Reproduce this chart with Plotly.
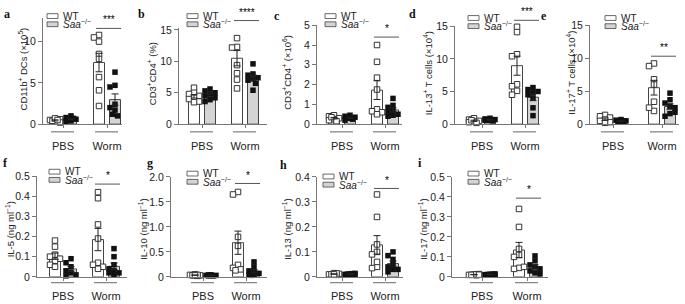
import numpy as np
import plotly.graph_objects as go

W, H = 685, 304

groups = ["PBS", "Worm"]
genotypes = ["WT", "<i>Saa</i><sup>−/−</sup>"]

# ---------------- data ----------------
a_wt_pbs = [0.3, 0.5, 0.6, 0.4, 0.2, 0.7, 0.5]
a_ko_pbs = [0.4, 0.8, 1.0, 0.6, 0.5, 0.3, 0.7]
a_wt_worm = [10.8, 10.5, 10.0, 8.5, 7.9, 5.7, 4.1, 2.2]
a_ko_worm = [6.3, 4.7, 4.5, 2.4, 2.0, 1.7, 1.2, 1.0]

b_wt_pbs = [5.8, 5.0, 4.8, 4.5, 4.2, 4.0, 3.6, 3.5]
b_ko_pbs = [5.6, 5.3, 5.0, 4.8, 4.5, 4.2, 3.9, 3.6]
b_wt_worm = [15.5, 13.7, 12.3, 12.2, 9.4, 8.1, 7.1, 5.7]
b_ko_worm = [9.6, 8.0, 7.8, 7.4, 7.2, 7.0, 6.5, 5.4]

c_wt_pbs = [0.45, 0.4, 0.3, 0.25, 0.2, 0.35, 0.15]
c_ko_pbs = [0.45, 0.4, 0.35, 0.3, 0.25, 0.2, 0.3]
c_wt_worm = [4.0, 3.15, 2.35, 1.75, 0.75, 0.65, 0.6, 0.5]
c_ko_worm = [1.3, 0.95, 0.85, 0.7, 0.6, 0.5, 0.45, 0.4]

d_wt_pbs = [0.9, 0.7, 0.5, 0.4, 0.3, 0.6, 0.2]
d_ko_pbs = [0.9, 0.8, 0.7, 0.6, 0.5, 0.7, 0.6]
d_wt_worm = [14.9, 14.1, 10.7, 10.4, 6.1, 5.8, 5.1, 4.5]
d_ko_worm = [5.6, 5.3, 5.0, 4.8, 4.5, 4.0, 2.5, 1.3]

e_wt_pbs = [1.4, 1.2, 1.0, 0.7, 0.5, 0.3, 0.2]
e_ko_pbs = [0.7, 0.6, 0.5, 0.4, 0.3, 0.5, 0.4]
e_wt_worm = [9.2, 8.8, 6.8, 6.0, 3.4, 2.0, 2.5]
e_ko_worm = [4.7, 3.7, 3.2, 2.7, 2.5, 1.6, 1.2, 1.8]

f_wt_pbs = [0.18, 0.15, 0.11, 0.10, 0.09, 0.08, 0.06, 0.05]
f_ko_pbs = [0.09, 0.07, 0.05, 0.03, 0.02, 0.01, 0.005]
f_wt_worm = [0.42, 0.39, 0.26, 0.19, 0.07, 0.06, 0.05, 0.04]
f_ko_worm = [0.14, 0.10, 0.06, 0.04, 0.03, 0.02, 0.02, 0.01]

g_wt_pbs = [0.05, 0.04, 0.03, 0.03, 0.02, 0.04, 0.03]
g_ko_pbs = [0.04, 0.03, 0.03, 0.02, 0.02, 0.03, 0.04]
g_wt_worm = [1.70, 1.65, 0.80, 0.62, 0.24, 0.18, 0.15, 0.13]
g_ko_worm = [0.30, 0.20, 0.12, 0.10, 0.07, 0.05, 0.04, 0.03]

h_wt_pbs = [0.015, 0.01, 0.012, 0.008, 0.01, 0.014, 0.01]
h_ko_pbs = [0.012, 0.01, 0.014, 0.009, 0.011, 0.013, 0.01]
h_wt_worm = [0.33, 0.24, 0.13, 0.10, 0.09, 0.04, 0.035, 0.06]
h_ko_worm = [0.10, 0.085, 0.07, 0.05, 0.04, 0.03, 0.02, 0.03]

i_wt_pbs = [0.012, 0.01, 0.014, 0.008, 0.01, 0.013, 0.011]
i_ko_pbs = [0.013, 0.011, 0.015, 0.01, 0.012, 0.014, 0.01]
i_wt_worm = [0.34, 0.25, 0.14, 0.11, 0.10, 0.045, 0.04, 0.05]
i_ko_worm = [0.105, 0.08, 0.06, 0.05, 0.04, 0.03, 0.02, 0.015]

panel_letters = ["a", "b", "c", "d", "e", "f", "g", "h", "i"]
y_titles = [
    "CD11b<sup>+</sup> DCs (×10<sup>5</sup>)",
    "CD3<sup>+</sup>CD4<sup>+</sup> (%)",
    "CD3<sup>+</sup>CD4<sup>+</sup> (×10<sup>6</sup>)",
    "IL-13<sup>+</sup> T cells (×10<sup>4</sup>)",
    "IL-17<sup>+</sup> T cells (×10<sup>4</sup>)",
    "IL-5 (ng ml<sup>−1</sup>)",
    "IL-10 (ng ml<sup>−1</sup>)",
    "IL-13 (ng ml<sup>−1</sup>)",
    "IL-17 (ng ml<sup>−1</sup>)",
]
y_ticks = [
    [0, 5, 10], [0, 5, 10, 15], [0, 1, 2, 3, 4, 5], [0, 5, 10, 15], [0, 5, 10, 15],
    [0, 0.1, 0.2, 0.3, 0.4, 0.5], [0, 0.5, 1.0, 1.5, 2.0],
    [0, 0.1, 0.2, 0.3, 0.4], [0, 0.1, 0.2, 0.3, 0.4, 0.5],
]
y_ticktext = [
    ["0", "5", "10"], ["0", "5", "10", "15"], ["0", "1", "2", "3", "4", "5"],
    ["0", "5", "10", "15"], ["0", "5", "10", "15"],
    ["0", "0.1", "0.2", "0.3", "0.4", "0.5"], ["0", "0.5", "1.0", "1.5", "2.0"],
    ["0", "0.1", "0.2", "0.3", "0.4"], ["0", "0.1", "0.2", "0.3", "0.4", "0.5"],
]
y_max = [12.8, 15.3, 5.0, 15.0, 15.0, 0.5, 2.0, 0.4, 0.5]
sig_labels = ["***", "****", "*", "***", "**", "*", "*", "*", "*"]
sig_level = [11.6, 16.5, 4.4, 15.9, 10.3, 0.46, 1.87, 0.354, 0.394]

wt_pbs = [a_wt_pbs, b_wt_pbs, c_wt_pbs, d_wt_pbs, e_wt_pbs, f_wt_pbs, g_wt_pbs, h_wt_pbs, i_wt_pbs]
ko_pbs = [a_ko_pbs, b_ko_pbs, c_ko_pbs, d_ko_pbs, e_ko_pbs, f_ko_pbs, g_ko_pbs, h_ko_pbs, i_ko_pbs]
wt_worm = [a_wt_worm, b_wt_worm, c_wt_worm, d_wt_worm, e_wt_worm, f_wt_worm, g_wt_worm, h_wt_worm, i_wt_worm]
ko_worm = [a_ko_worm, b_ko_worm, c_ko_worm, d_ko_worm, e_ko_worm, f_ko_worm, g_ko_worm, h_ko_worm, i_ko_worm]

# ---------------- layout geometry (pixels) ----------------
geo = [
    dict(L=43, R=122, c0=63, c1=107, y0=123, top=13),
    dict(L=179, R=267, c0=202, c1=245, y0=123, top=23),
    dict(L=317, R=402, c0=342, c1=385, y0=123, top=20),
    dict(L=455, R=540, c0=482, c1=525, y0=123, top=21),
    dict(L=590, R=679, c0=613, c1=662, y0=123, top=20),
    dict(L=37, R=127, c0=63, c1=106, y0=282, top=177),
    dict(L=171, R=267, c0=203, c1=246, y0=282, top=178),
    dict(L=317, R=403, c0=342, c1=385, y0=282, top=178),
    dict(L=452, R=548, c0=482, c1=527, y0=282, top=178),
]
title_x = [23, 152, 287, 428, 571, 10, 143, 287, 423]
letter_pos = [(7, 8), (141, 8), (277, 10), (412, 8), (544, 10), (5, 163), (150, 163), (283, 166), (420, 163)]
legend_dx = [4, 8, 8, 13, 15, 12, 16, 6, 16]
legend_top = [8, 8, 8, 10, 10, 170, 172, 175, 172]

FONT = "Liberation Sans, Arial, sans-serif"
AXC = "#777777"
TXT = "#222222"
BAR_OFF_PX = 8
BAR_W_PX = 11
MS = 5.5

def px2x(p):
    return p / W

def px2y(p):
    return 1 - p / H

def mean_sem(v):
    v = np.asarray(v, float)
    return v.mean(), v.std(ddof=1) / np.sqrt(len(v))

def swarm(vals, ppu_y, size):
    placed = []
    offs = []
    cands = [0, -2.5, 2.5, -5, 5]
    for v in vals:
        yp = v * ppu_y
        best, bestd = 0, -1
        for o in cands:
            d = min([np.hypot(o - px, yp - py) for px, py in placed] or [99])
            if d >= size * 0.9:
                best, bestd = o, d
                break
            if d > bestd:
                best, bestd = o, d
        placed.append((best, yp))
        offs.append(best)
    return np.array(offs, float)

fig = go.Figure()
shapes = []
annotations = []

for k in range(9):
    g = geo[k]
    n = k + 1
    xa = "x" if n == 1 else f"x{n}"
    ya = "y" if n == 1 else f"y{n}"
    u = g["c1"] - g["c0"]
    ppu = (g["y0"] - g["top"]) / y_max[k]
    xr = [(g["L"] - g["c0"]) / u, (g["R"] - g["c0"]) / u]
    off = BAR_OFF_PX / u
    bw = BAR_W_PX / u
    pos = np.arange(len(groups), dtype=float)

    series = [
        ("wt", [wt_pbs[k], wt_worm[k]], -off, "white", "white", "#333333", 1.0),
        ("ko", [ko_pbs[k], ko_worm[k]], off, "#d4d4d4", "#111111", "#111111", 0),
    ]
    for name, data, o, barfill, mfill, mline, mlw in series:
        ms = [mean_sem(d) for d in data]
        fig.add_trace(go.Bar(
            x=pos + o, y=[m for m, _ in ms], width=bw,
            marker=dict(color=barfill, line=dict(color="#444444", width=1)),
            xaxis=xa, yaxis=ya, showlegend=False, hoverinfo="skip",
        ))
        xs, ys = [], []
        for gi, d in enumerate(data):
            jit = swarm(d, ppu, MS) / u
            xs += list(pos[gi] + o + jit)
            ys += list(d)
        fig.add_trace(go.Scatter(
            x=xs, y=ys, mode="markers", cliponaxis=False,
            marker=dict(symbol="square", size=MS, color=mfill, line=dict(color=mline, width=mlw)),
            xaxis=xa, yaxis=ya, showlegend=False,
        ))
        fig.add_trace(go.Scatter(
            x=pos + o, y=[m for m, _ in ms], mode="markers", cliponaxis=False,
            marker=dict(size=0.1, color="rgba(0,0,0,0)"),
            error_y=dict(type="data", array=[s for _, s in ms], color="#222222", thickness=1, width=3.5),
            xaxis=xa, yaxis=ya, showlegend=False, hoverinfo="skip",
        ))

    fig.update_layout({
        ("xaxis" if n == 1 else f"xaxis{n}"): dict(
            domain=[px2x(g["L"]), px2x(g["R"])], range=xr, anchor=ya,
            showline=True, linecolor=AXC, linewidth=1, showgrid=False, zeroline=False,
            tickvals=list(pos), ticktext=groups, ticks="outside", ticklen=3,
            tickcolor=AXC, tickfont=dict(size=11, color=TXT, family=FONT),
            ticklabelstandoff=9 if k < 5 else 6,
        ),
        ("yaxis" if n == 1 else f"yaxis{n}"): dict(
            domain=[px2y(g["y0"]), px2y(g["top"])], range=[0, y_max[k]], anchor=xa,
            showline=True, linecolor=AXC, linewidth=1, showgrid=False, zeroline=False,
            tickvals=y_ticks[k], ticktext=y_ticktext[k], ticks="outside", ticklen=4,
            tickcolor=AXC, tickfont=dict(size=10.5, color=TXT, family=FONT),
        ),
    })

    uy = g["y0"] + (8 if k < 5 else 6)
    for c in (g["c0"], g["c1"]):
        shapes.append(dict(type="line", xref="paper", yref="paper",
                           x0=px2x(c - 12), x1=px2x(c + 11), y0=px2y(uy), y1=px2y(uy),
                           line=dict(color="#888888", width=1.3)))

    sy = g["y0"] - sig_level[k] * ppu
    shapes.append(dict(type="line", xref="paper", yref="paper",
                       x0=px2x(g["c1"] - 11), x1=px2x(g["c1"] + 14), y0=px2y(sy), y1=px2y(sy),
                       line=dict(color="#555555", width=1)))
    annotations.append(dict(text=sig_labels[k], xref="paper", yref="paper",
                            x=px2x(g["c1"] + 1.5), y=px2y(sy - 1), xanchor="center", yanchor="bottom",
                            showarrow=False, font=dict(size=10, color="#000000", family=FONT)))

    lx = g["L"] + legend_dx[k]
    for j, lab in enumerate(genotypes):
        ty = legend_top[k] + j * 8.5
        shapes.append(dict(type="rect", xref="paper", yref="paper",
                           x0=px2x(lx), x1=px2x(lx + 11), y0=px2y(ty), y1=px2y(ty + 5),
                           fillcolor="white" if j == 0 else "#d4d4d4",
                           line=dict(color="#444444", width=0.8)))
        annotations.append(dict(text=lab, xref="paper", yref="paper",
                                x=px2x(lx + 14), y=px2y(ty + 2.5), xanchor="left", yanchor="middle",
                                showarrow=False, font=dict(size=10, color=TXT, family=FONT)))

    yc = (g["y0"] + g["top"]) / 2 + (-2 if k < 5 else 3)
    annotations.append(dict(text=y_titles[k], xref="paper", yref="paper",
                            x=px2x(title_x[k]), y=px2y(yc), textangle=-90,
                            xanchor="center", yanchor="middle", showarrow=False,
                            font=dict(size=9.5, color=TXT, family=FONT)))

    lxp, lyp = letter_pos[k]
    annotations.append(dict(text=f"<b>{panel_letters[k]}</b>", xref="paper", yref="paper",
                            x=px2x(lxp), y=px2y(lyp), xanchor="center", yanchor="middle",
                            showarrow=False, font=dict(size=12, color="#111111", family="Liberation Serif, serif")))

fig.update_layout(
    width=W, height=H, margin=dict(l=0, r=0, t=0, b=0),
    paper_bgcolor="white", plot_bgcolor="white",
    barmode="overlay", showlegend=False, hovermode=False,
    shapes=shapes, annotations=annotations,
    font=dict(family=FONT, color=TXT),
)

fig.write_html("out.html", config={"displayModeBar": False},
               post_script="document.body.style.margin='0px';document.body.style.overflow='hidden';")
